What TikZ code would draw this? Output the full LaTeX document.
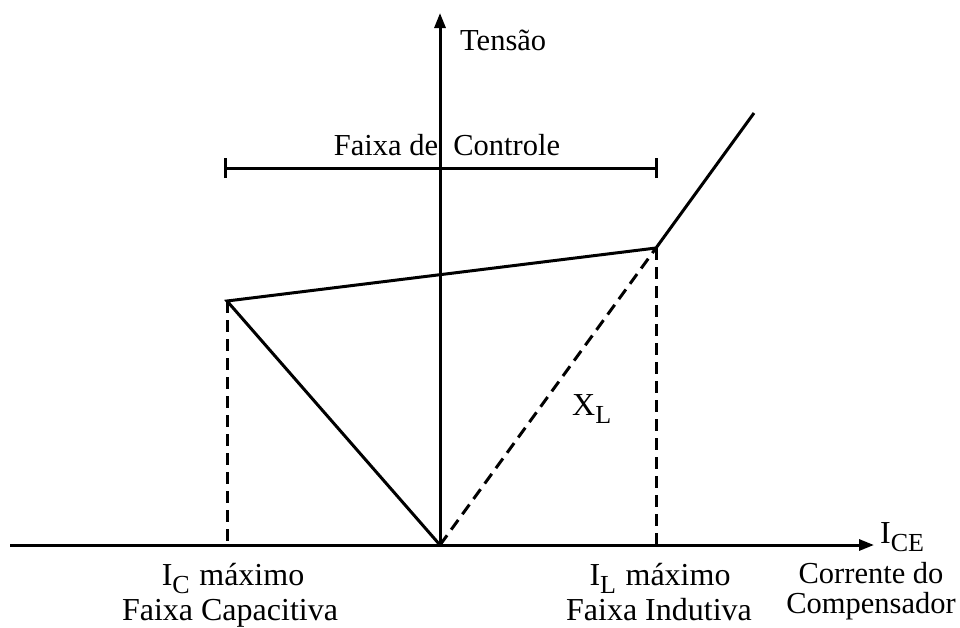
\documentclass[tikz,border=0pt]{standalone}
\usepackage{fontspec}
\setmainfont{Liberation Serif}
\usetikzlibrary{arrows.meta}
\newcommand{\mysub}[1]{\raisebox{-0.28em}{\fontsize{26}{26}\selectfont #1}}
\begin{document}
\begin{tikzpicture}[x=1pt,y=-1pt,
  ln/.style={line width=3pt},
  dsh/.style={line width=3pt,dash pattern=on 12pt off 7pt},
  axis/.style={line width=3pt,-{Triangle[length=15pt,width=11pt]}},
  lbl/.style={font=\fontsize{32}{32}\selectfont,inner sep=0pt},
  lbls/.style={font=\fontsize{30.5}{30}\selectfont,inner sep=0pt}]
\useasboundingbox (0,0) rectangle (960,627);
% points
\coordinate (O) at (440,545);
\coordinate (xl) at (10,545);
\coordinate (xr) at (874,545);
\coordinate (yt) at (440,13);
\coordinate (C) at (227,301);
\coordinate (Cb) at (227,545);
\coordinate (L) at (656,248);
\coordinate (Lb) at (656,545);
\coordinate (T) at (754,113);
\coordinate (fa) at (225,168);
\coordinate (fb) at (656,168);
% axes
\draw[axis] (xl) -- (xr);
\draw[axis] (O) -- (yt);
% characteristic
\draw[ln,line join=miter] (O) -- (C) -- (L) -- (T);
\draw[dsh] (O) -- (L);
\draw[dsh] (C) -- (Cb);
\draw[dsh] (L) -- (Lb);
% control range
\draw[ln] (fa) -- (fb);
\draw[ln] ([yshift=-10pt]fa) -- ([yshift=10pt]fa);
\draw[ln] ([yshift=-10pt]fb) -- ([yshift=10pt]fb);
% labels
\node[lbls,anchor=base west] (tens) at (460,50) {Tensão};
\node[lbls,anchor=base] (faixa) at (447,155) {Faixa de\hspace{0.5em}Controle};
\node[lbl,anchor=base west] (xlab) at (572,415) {X\mysub{L}};
\node[lbl,anchor=base west] (ice) at (880,543) {I\mysub{CE}};
\node[lbls,anchor=base] (corr1) at (871,583) {Corrente do};
\node[lbls,anchor=base] (corr2) at (871,613) {Compensador};
\node[lbl,anchor=base] (icm1) at (233,585) {I\mysub{C}\hspace{0.3em}máximo};
\node[lbl,anchor=base] (icm2) at (230,620) {Faixa Capacitiva};
\node[lbl,anchor=base] (ilm1) at (660,585) {I\mysub{L}\hspace{0.3em}máximo};
\node[lbl,anchor=base] (ilm2) at (659,620) {Faixa Indutiva};
\end{tikzpicture}
\end{document}
